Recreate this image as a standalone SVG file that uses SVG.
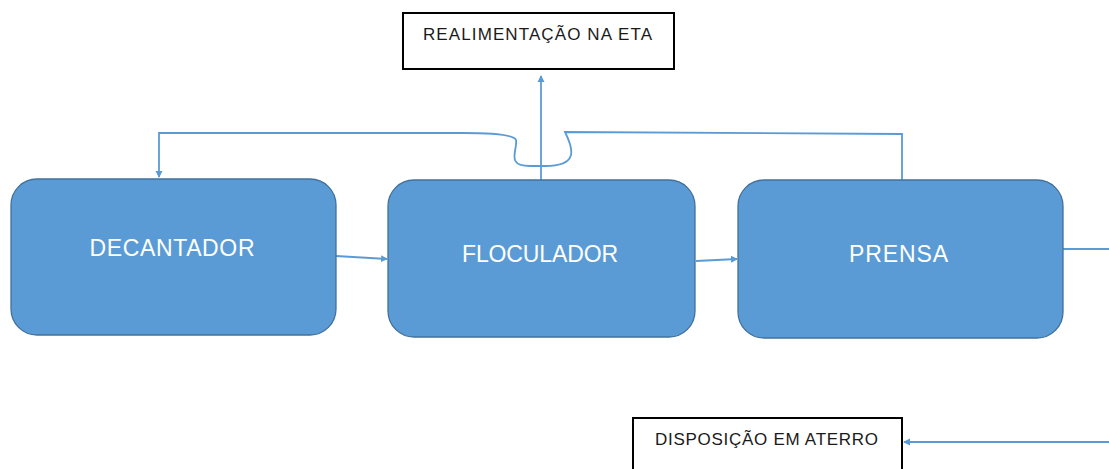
<svg xmlns="http://www.w3.org/2000/svg" width="1109" height="469" viewBox="0 0 1109 469">
<style>
.proc{fill:#5b9bd5;stroke:#41719c;stroke-width:1.3}
.plabel{font-family:"Liberation Sans",Arial,sans-serif;font-size:23px;fill:#ffffff;text-anchor:middle}
.out{fill:#ffffff;stroke:#000000;stroke-width:2}
.olabel{font-family:"Liberation Sans",Arial,sans-serif;font-size:17px;fill:#1a1a1a}
.conn{fill:none;stroke:#5b9bd5;stroke-width:1.8}
</style>
<defs>
<marker id="arr" markerWidth="8" markerHeight="8" refX="6" refY="4" orient="auto" markerUnits="userSpaceOnUse">
<path d="M0,0.5 L7,4 L0,7.5 Z" fill="#5b9bd5"/>
</marker>
</defs>
<rect width="1109" height="469" fill="#ffffff"/>
<g id="connectors">
<path class="conn" d="M336,256 L387,259" marker-end="url(#arr)"/>
<path class="conn" d="M696,261 L737,259" marker-end="url(#arr)"/>
<path class="conn" d="M541,180 L541,76" marker-end="url(#arr)"/>
<path class="conn" d="M902,180 L902,134 L565,132 C574,150 578,166 545,166 L530,166 C505,166 518,150 516,140 C514,134 485,133 463,133 L159,133 L159,177" marker-end="url(#arr)"/>
<path class="conn" d="M1063,249 L1109,249"/>
<path class="conn" d="M1109,442 L904,442" marker-end="url(#arr)"/>
</g>
<g id="decantador">
<rect class="proc" x="11" y="179" width="325" height="156" rx="26"/>
<text class="plabel" x="172" y="256" textLength="165">DECANTADOR</text>
</g>
<g id="floculador">
<rect class="proc" x="388" y="180" width="307" height="157" rx="26"/>
<text class="plabel" x="540" y="262" textLength="156">FLOCULADOR</text>
</g>
<g id="prensa">
<rect class="proc" x="738" y="180" width="325" height="158" rx="26"/>
<text class="plabel" x="898.5" y="262" textLength="99">PRENSA</text>
</g>
<g id="realimentacao">
<rect class="out" x="403" y="13" width="271" height="56"/>
<text class="olabel" x="423" y="40" textLength="229">REALIMENTAÇÃO NA ETA</text>
</g>
<g id="disposicao">
<rect class="out" x="633" y="418" width="269" height="60"/>
<text class="olabel" x="655" y="445" textLength="223">DISPOSIÇÃO EM ATERRO</text>
</g>
</svg>
